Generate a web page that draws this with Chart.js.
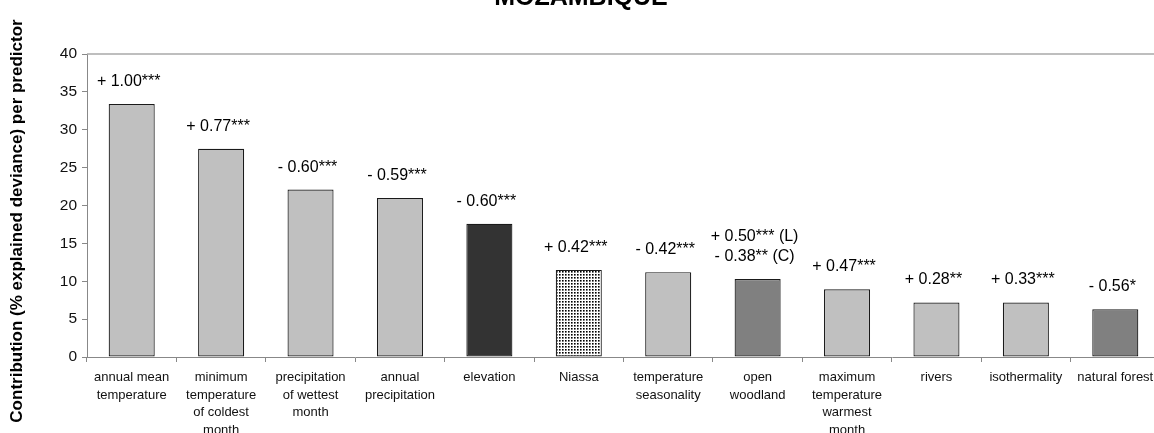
<!DOCTYPE html>
<html><head><meta charset="utf-8">
<script src="https://cdn.jsdelivr.net/npm/chart.js@4"></script>
<style>
html,body{margin:0;padding:0;overflow:hidden;background:#fff}
#wrap{position:relative;width:1162px;height:433px}
</style>
</head><body><div id="wrap"><canvas id="c"></canvas></div>
<script>
// ---- data ----
const chartTitle = "MOZAMBIQUE";
const yAxisTitle = "Contribution (% explained deviance) per predictor";
const categories = [
  ["annual mean","temperature"],
  ["minimum","temperature","of coldest","month"],
  ["precipitation","of wettest","month"],
  ["annual","precipitation"],
  ["elevation"],
  ["Niassa"],
  ["temperature","seasonality"],
  ["open","woodland"],
  ["maximum","temperature","warmest","month"],
  ["rivers"],
  ["isothermality"],
  ["natural forest"]
];
const contribution = [33.4, 27.5, 22.1, 21.0, 17.6, 11.5, 11.2, 10.3, 8.95, 7.2, 7.2, 6.3];
const effectLabels = [
  ["+ 1.00***"],["+ 0.77***"],["- 0.60***"],["- 0.59***"],["- 0.60***"],["+ 0.42***"],
  ["- 0.42***"],["+ 0.50*** (L)","- 0.38** (C)"],["+ 0.47***"],["+ 0.28**"],["+ 0.33***"],["- 0.56*"]
];
const predictorType = ["climate","climate","climate","climate","topography","region","climate","landcover","climate","hydrology","climate","landcover"];
const yTicks = [0,5,10,15,20,25,30,35,40];

// ---- styles ----
const FONT = "'Liberation Sans', Arial, Helvetica, sans-serif";
function dotPattern(){
  const p = document.createElement('canvas'); p.width = 3; p.height = 3;
  const g = p.getContext('2d');
  g.fillStyle = '#fff'; g.fillRect(0,0,3,3);
  g.fillStyle = '#000'; g.fillRect(1,1,1.6,1.6);
  return g.createPattern(p,'repeat');
}
const ctx0 = document.getElementById('c').getContext('2d');
const typeFill = {climate:'#c0c0c0', hydrology:'#c0c0c0', topography:'#333333', landcover:'#808080'};
const fills = predictorType.map(t => t === 'region' ? dotPattern() : typeFill[t]);

const decorations = {
  id:'decorations',
  afterDatasetsDraw(chart){
    const c = chart.ctx, a = chart.chartArea;
    c.save();
    // top border
    c.strokeStyle = '#a8a8a8'; c.lineWidth = 1.5;
    c.beginPath(); c.moveTo(a.left, a.top); c.lineTo(chart.width, a.top); c.stroke();
    // title
    c.fillStyle = '#000'; c.font = "bold 25px " + FONT; c.textAlign = 'center'; c.textBaseline = 'alphabetic';
    c.fillText(chartTitle, 581, 5);
    // y title
    c.save(); c.translate(17, 221); c.rotate(-Math.PI/2);
    c.font = "bold 17px " + FONT; c.textBaseline = 'middle';
    c.fillText(yAxisTitle, 0, 0); c.restore();
    // effect labels
    const meta = chart.getDatasetMeta(0);
    c.textAlign = 'center'; c.textBaseline = 'alphabetic';
    c.font = "16px " + FONT;
    meta.data.forEach((bar, i) => {
      const lines = effectLabels[i];
      lines.forEach((line, j) => {
        const baseY = bar.y - 18 - (lines.length - 1 - j) * 20;
        c.fillText(line, bar.x - 3, baseY);
      });
    });
    c.restore();
  }
};

new Chart(ctx0, {
  type:'bar',
  data:{
    labels: categories,
    datasets:[{
      data: contribution,
      backgroundColor: fills,
      borderColor:'#1a1a1a',
      borderWidth:1.2,
      borderSkipped:false,
      barPercentage:0.515,
      categoryPercentage:1
    }]
  },
  options:{
    responsive:true, maintainAspectRatio:false, animation:false,
    devicePixelRatio:1,
    layout:{padding:{top:54,right:2,left:0,bottom:0}},
    plugins:{legend:{display:false}, title:{display:false}, tooltip:{enabled:false}},
    scales:{
      x:{
        grid:{offset:true, drawOnChartArea:false, drawTicks:true, tickLength:5, color:'#888'},
        border:{color:'#888', width:1},
        ticks:{color:'#111', font:{family:FONT, size:13, lineHeight:1.35}, maxRotation:0, autoSkip:false, padding:7},
        afterFit(s){ s.height = 76; }
      },
      y:{
        min:0, max:40,
        afterBuildTicks(s){ s.ticks = yTicks.map(v => ({value:v})); },
        grid:{drawOnChartArea:false, drawTicks:true, tickLength:5, color:'#888'},
        border:{color:'#888', width:1},
        ticks:{color:'#111', font:{family:FONT, size:15.5}, padding:5},
        afterFit(s){ s.width = 87; }
      }
    }
  },
  plugins:[decorations]
});
</script>
</body></html>
